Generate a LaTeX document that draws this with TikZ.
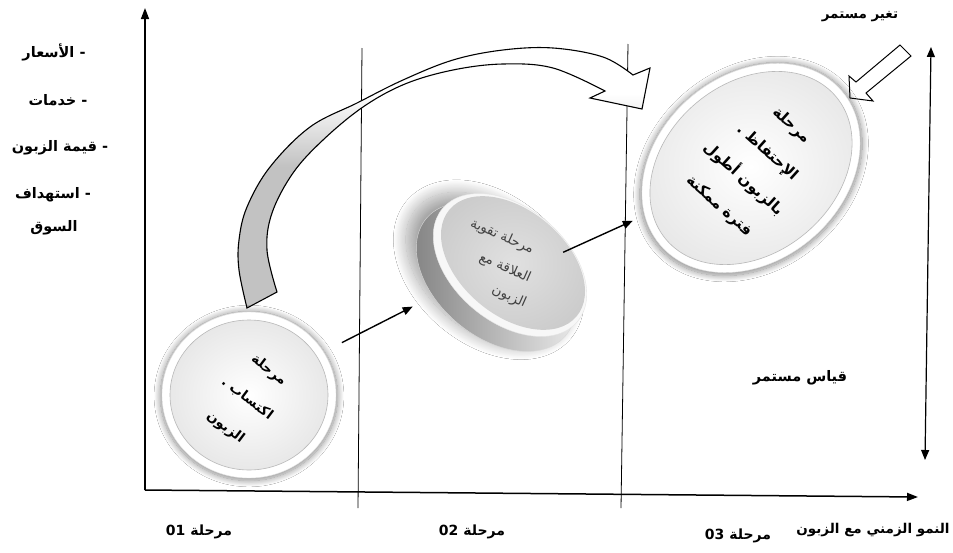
\documentclass[tikz,border=0pt]{standalone}
\usepackage{fontspec}
\usetikzlibrary{shapes.geometric,shadows.blur,arrows.meta}
\TeXXeTstate=1
\newfontfamily\arfont[Script=Arabic]{DejaVu Sans}

% grey at the tail of the ribbon arrow, white towards its head
\pgfdeclareverticalshading{ribbonfade}{100bp}{color(0bp)=(black!24); color(52bp)=(black!24); color(66bp)=(white); color(100bp)=(white)}

\tikzset{
  axisline/.style={line width=1.5pt, -{Triangle[length=11pt,width=8pt]}},
  divider/.style={line width=0.8pt},
  conn/.style={line width=1.4pt, -{Triangle[length=10pt,width=8pt]}},
  lbl/.style={font=\arfont\bfseries\fontsize{14.5}{17}\selectfont, inner sep=1pt},
  axlbl/.style={font=\arfont\bfseries\fontsize{14}{16}\selectfont, inner sep=1pt},
  ringout/.style={ellipse, draw=black!10, fill=white, inner sep=0pt,
    blur shadow={shadow xshift=0pt, shadow yshift=-1pt, shadow blur radius=6pt, shadow blur steps=16, shadow opacity=45, shadow scale=1.02}},
  ringin/.style={ellipse, draw=black!28, line width=0.6pt, inner color=white, outer color=black!9, inner sep=0pt},
  ctext/.style={font=\arfont\bfseries\fontsize{13.5}{36}\selectfont, align=center, inner sep=0pt},
  cointext/.style={font=\arfont\fontsize{13.5}{15}\selectfont, text=black!75, inner sep=0pt},
}

\begin{document}
\begin{tikzpicture}[x=1pt,y=-1pt]
\useasboundingbox[fill=white] (0,0) rectangle (953,552);

% axes and phase dividers
\coordinate (O) at (145,490);
\coordinate (ytip) at (145,8);
\coordinate (xtip) at (918,497);
\coordinate (d2t) at (362,48);  \coordinate (d2b) at (358,508);
\coordinate (d3t) at (628,44);  \coordinate (d3b) at (621,508);
\draw[divider] (d2t) -- (d2b);
\draw[divider] (d3t) -- (d3b);
\draw[axisline] (O) -- (ytip);
\draw[axisline] (O) -- (xtip);

% continuous measurement arrow on the right
\coordinate (rt) at (931,47);
\coordinate (rb) at (925,460);
\draw[line width=1.2pt, {Triangle[length=10pt,width=8pt]}-{Triangle[length=10pt,width=8pt]}] (rt) -- (rb);

% curved ribbon arrow from phase 1 to phase 3
\path[draw=black, line width=1.1pt, shading=ribbonfade, line join=miter]
  (247,308) -- plot[smooth, tension=0.6] coordinates {(247,308) (239,270) (239,240) (247,207) (270,167) (310,127) (357,103) (403,80) (453,60) (503,50) (553,48) (603,57) (633,75)}
  -- (650,68) -- (642,109) -- (590,98) -- (605,91)
  -- plot[smooth, tension=0.6] coordinates {(605,91) (553,68) (503,64) (453,70) (405,84) (363,107) (323,140) (293,173) (272,213) (267,250) (277,292)}
  -- cycle;

% small hollow arrow (continuous change)
\draw[line width=1pt, fill=white, line join=miter]
  (850,98) -- (849,76) -- (856,82) -- (900,45) -- (911,56) -- (866,93) -- (873,101) -- cycle;

% phase 1 disc
\node[ringout, minimum width=174pt, minimum height=166pt] (c1) at (249,395) {};
\node[ringin, minimum width=158pt, minimum height=150pt] (c1in) at (249,395) {};
\node[ctext, rotate=-37] (t1) at (247,399)
  {\beginR مرحلة\endR\\ \beginR اكتساب .\endR\\ \beginR الزبون\endR};

% phase 2 coin
\node[ellipse, inner sep=0pt, minimum width=182pt, minimum height=120pt, rotate=-40,
      left color=black!50, right color=black!6, draw=black!15,
      blur shadow={shadow xshift=-7pt, shadow yshift=7pt, shadow blur radius=12pt, shadow blur steps=24, shadow opacity=35, shadow scale=1.04}] (c2side) at (496,277) {};
\node[ellipse, inner sep=0pt, minimum width=176pt, minimum height=114pt, rotate=-40,
      fill=black!3, draw=black!10] (c2) at (510,265) {};
\node[ellipse, inner sep=0pt, minimum width=166pt, minimum height=105pt, rotate=-40,
      inner color=black!12, outer color=black!20] (c2in) at (513,263) {};
\node[cointext, rotate=-24] (t2a) at (502,237) {\beginR مرحلة تقوية\endR};
\node[cointext, rotate=-24] (t2b) at (505,268) {\beginR العلاقة مع\endR};
\node[cointext, rotate=-24] (t2c) at (509,297) {\beginR الزبون\endR};

% phase 3 disc
\node[ringout, minimum width=238pt, minimum height=186pt, rotate=40] (c3) at (751,168) {};
\node[ringin, minimum width=222pt, minimum height=170pt, rotate=40] (c3in) at (751,168) {};
\node[ctext, rotate=-42, font=\arfont\bfseries\fontsize{15}{36}\selectfont] (t3) at (755,166)
  {\beginR مرحلة\endR\\ \beginR الإحتفاظ .\endR\\ \beginR بالزبون أطول\endR\\ \beginR فترة ممكنة\endR};

% connectors between phases
\draw[conn, shorten <=20.5pt, shorten >=22.7pt] (c1.30) -- (c2side.237.5);
\draw[conn, shorten <=-9pt, shorten >=13pt] (c2.55) -- (c3.164);

% vertical axis labels
\node[lbl] (y1) at (54,52)  {\beginR - الأسعار\endR};
\node[lbl] (y2) at (58,100) {\beginR - خدمات\endR};
\node[lbl] (y3) at (60,148) {\beginR - قيمة الزبون\endR};
\node[lbl] (y4) at (53,195) {\beginR - استهداف\endR};
\node[lbl] (y5) at (54,228) {\beginR السوق\endR};

% right side labels
\node[lbl, font=\arfont\bfseries\fontsize{13.5}{16}\selectfont] (ch) at (860,17)  {\beginR تغير مستمر\endR};
\node[lbl] (ms) at (800,378) {\beginR قياس مستمر\endR};

% horizontal axis labels
\node[axlbl] (p1) at (199,532) {\beginR مرحلة \beginL 01\endL\endR};
\node[axlbl] (p2) at (472,532) {\beginR مرحلة \beginL 02\endL\endR};
\node[axlbl] (p3) at (738,536) {\beginR مرحلة \beginL 03\endL\endR};
\node[axlbl, font=\arfont\bfseries\fontsize{13.5}{16}\selectfont] (px) at (873,530) {\beginR النمو الزمني مع الزبون\endR};
\end{tikzpicture}
\end{document}
